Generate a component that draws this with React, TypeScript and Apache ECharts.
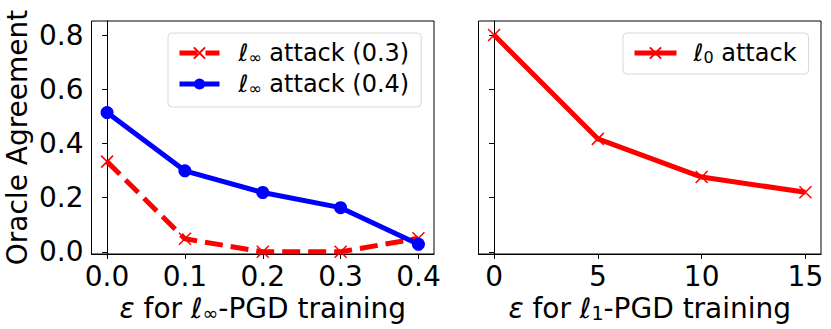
import React, { useEffect, useRef } from "react";
import * as echarts from "echarts";

const leftEps = [0.0, 0.1, 0.2, 0.3, 0.4];
const linf03 = [0.333, 0.048, 0.0, 0.0, 0.05];
const linf04 = [0.514, 0.299, 0.219, 0.163, 0.028];
const rightEps = [0, 5, 10, 15];
const l0 = [0.8, 0.417, 0.276, 0.22];
const yTicks = [0, 0.2, 0.4, 0.6, 0.8];
const leftXTicks = [0.0, 0.1, 0.2, 0.3, 0.4];
const rightXTicks = [0, 5, 10, 15];

const FONT = "DejaVu Sans";
const X_SYMBOL = "path://M0,0L10,10M10,0L0,10";

export default function App() {
  const ref = useRef<HTMLDivElement>(null);
  useEffect(() => {
    document.body.style.margin = "0";
    const chart = echarts.init(ref.current!, null, { renderer: "svg" });
    const tickFont = { fontFamily: FONT, fontSize: 28, color: "#000" };
    const nameRich = {
      e: { fontFamily: FONT, fontSize: 28, fontStyle: "italic", color: "#000" },
      l: { fontFamily: FONT, fontSize: 28, color: "#000" },
      s: { fontFamily: FONT, fontSize: 19, color: "#000", verticalAlign: "bottom" },
    };
    const legRich = {
      l: { fontFamily: FONT, fontSize: 24, color: "#000" },
      s: { fontFamily: FONT, fontSize: 16, color: "#000", verticalAlign: "bottom" },
      t: { fontFamily: FONT, fontSize: 24, color: "#000" },
    };
    const yAxisBase = {
      type: "value",
      min: -0.008,
      max: 0.852,
      splitLine: { show: false },
      axisLine: { show: true, lineStyle: { color: "#000", width: 1 } },
      axisTick: { show: true, inside: false, length: 5, customValues: yTicks, lineStyle: { color: "#000" } },
    };
    const option: any = {
      animation: false,
      backgroundColor: "#fff",
      textStyle: { fontFamily: FONT },
      grid: [
        { left: 91.5, top: 21, width: 342.5, height: 233, show: true, borderColor: "#000", borderWidth: 1, backgroundColor: "transparent" },
        { left: 478.5, top: 21, width: 342.5, height: 233, show: true, borderColor: "#000", borderWidth: 1, backgroundColor: "transparent" },
      ],
      xAxis: [
        {
          type: "value", gridIndex: 0, min: -0.02, max: 0.42,
          splitLine: { show: false },
          axisLine: { show: true, onZero: false, lineStyle: { color: "#000" } },
          axisTick: { show: true, length: 5, customValues: leftXTicks, lineStyle: { color: "#000" } },
          axisLabel: { ...tickFont, margin: 8, customValues: leftXTicks, formatter: (v: number) => v.toFixed(1) },
          name: "{e|ε} {l|for ℓ}{s|∞}{l|-PGD training}",
          nameLocation: "middle", nameGap: 37,
          nameTextStyle: { rich: nameRich, fontSize: 28, fontFamily: FONT, color: "#000" },
        },
        {
          type: "value", gridIndex: 1, min: -0.75, max: 15.75,
          splitLine: { show: false },
          axisLine: { show: true, onZero: false, lineStyle: { color: "#000" } },
          axisTick: { show: true, length: 5, customValues: rightXTicks, lineStyle: { color: "#000" } },
          axisLabel: { ...tickFont, margin: 8, customValues: rightXTicks, formatter: (v: number) => String(v) },
          name: "{e|ε} {l|for ℓ}{s|1}{l|-PGD training}",
          nameLocation: "middle", nameGap: 37,
          nameTextStyle: { rich: nameRich, fontSize: 28, fontFamily: FONT, color: "#000" },
        },
      ],
      yAxis: [
        {
          ...yAxisBase, gridIndex: 0,
          axisLabel: { ...tickFont, margin: 8, customValues: yTicks, formatter: (v: number) => v.toFixed(1) },
          name: "Oracle Agreement", nameLocation: "middle", nameGap: 60,
          nameTextStyle: { fontFamily: FONT, fontSize: 28, color: "#000" },
        },
        {
          ...yAxisBase, gridIndex: 1,
          axisLabel: { show: false },
        },
      ],
      legend: [
        {
          left: 168, top: 33, orient: "vertical",
          data: ["ℓ∞ attack (0.3)", "ℓ∞ attack (0.4)"],
          itemWidth: 40, itemHeight: 14, itemGap: 7,
          padding: [8, 12, 11, 9],
          borderColor: "#d9d9d9", borderWidth: 1, borderRadius: 4,
          backgroundColor: "rgba(255,255,255,0.8)",
          lineStyle: { width: 5 },
          formatter: (n: string) => (n.endsWith("(0.3)") ? "{l|ℓ}{s|∞}{t| attack (0.3)}" : "{l|ℓ}{s|∞}{t| attack (0.4)}"),
          textStyle: { rich: legRich, fontFamily: FONT, fontSize: 24, color: "#000", padding: [0, 0, 0, 14] },
        },
        {
          left: 623, top: 33, orient: "vertical",
          data: ["ℓ0 attack"],
          itemWidth: 42, itemHeight: 14,
          padding: [8, 12, 9, 9],
          borderColor: "#d9d9d9", borderWidth: 1, borderRadius: 4,
          backgroundColor: "rgba(255,255,255,0.8)",
          lineStyle: { width: 5 },
          formatter: () => "{l|ℓ}{s|0}{t| attack}",
          textStyle: { rich: legRich, fontFamily: FONT, fontSize: 24, color: "#000", padding: [0, 0, 0, 12] },
        },
      ],
      series: [
        {
          name: "ℓ∞ attack (0.3)", type: "line", xAxisIndex: 0, yAxisIndex: 0,
          data: leftEps.map((x, i) => [x, linf03[i]]),
          lineStyle: { color: "#ff0000", width: 5, type: [18, 8] },
          symbol: X_SYMBOL, symbolSize: 12, showSymbol: true,
          itemStyle: { color: "#ff0000", borderColor: "#ff0000", borderWidth: 1.5 },
          z: 2,
        },
        {
          name: "ℓ∞ attack (0.4)", type: "line", xAxisIndex: 0, yAxisIndex: 0,
          data: leftEps.map((x, i) => [x, linf04[i]]),
          lineStyle: { color: "#0000ff", width: 5 },
          symbol: "circle", symbolSize: 13, showSymbol: true,
          itemStyle: { color: "#0000ff", borderWidth: 0 },
          z: 3,
        },
        {
          name: "ℓ0 attack", type: "line", xAxisIndex: 1, yAxisIndex: 1,
          data: rightEps.map((x, i) => [x, l0[i]]),
          lineStyle: { color: "#ff0000", width: 5 },
          symbol: X_SYMBOL, symbolSize: 12, showSymbol: true,
          itemStyle: { color: "#ff0000", borderColor: "#ff0000", borderWidth: 1.5 },
        },
      ],
    };
    chart.setOption(option);
    return () => chart.dispose();
  }, []);
  return <div ref={ref} style={{ width: 831, height: 329 }} />;
}
